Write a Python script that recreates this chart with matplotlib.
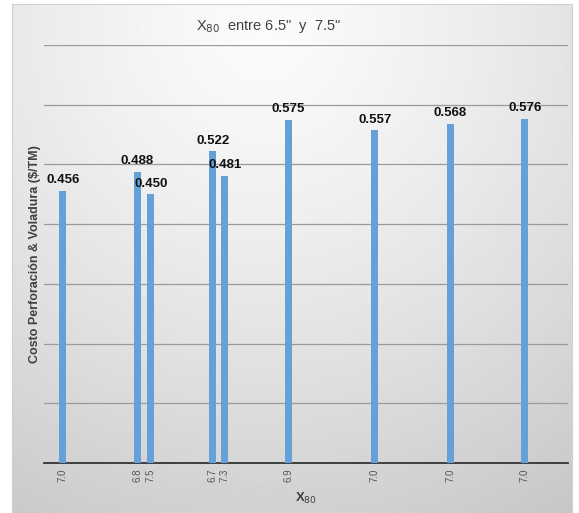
import numpy as np
import matplotlib
matplotlib.use("Agg")
import matplotlib.pyplot as plt

plt.rcParams['font.family'] = ['Liberation Sans', 'DejaVu Sans']

# slot positions along the category axis (blank categories in between)
slots = [1.4, 6.9, 7.9, 12.5, 13.4, 18.1, 24.5, 30.1, 35.6]
x80_labels = ['7.0', '6.8', '7.5', '6.7', '7.3', '6.9', '7.0', '7.0', '7.0']
costo = [0.456, 0.488, 0.450, 0.522, 0.481, 0.575, 0.557, 0.568, 0.576]

W, H = 579, 513
fig = plt.figure(figsize=(W / 100, H / 100), dpi=100)
fig.patch.set_facecolor('white')

# gray radial background of the chart area
bg = fig.add_axes([12 / W, 0, 560 / W, 1 - 4 / H])
yy, xx = np.mgrid[0:1:300j, 0:1:300j]
r = np.sqrt(((xx - 0.45) / 1.0) ** 2 + ((yy - 0.05) / 1.1) ** 2)
shade = 0.985 - 0.2 * np.clip(r, 0, 1.2) ** 1.3
bg.imshow(shade, cmap='gray', vmin=0, vmax=1, aspect='auto',
          extent=[0, 1, 1, 0], interpolation='bilinear')
bg.set_xlim(0, 1)
bg.set_ylim(1, 0)
bg.set_xticks([])
bg.set_yticks([])
for s in bg.spines.values():
    s.set_color('#d0d0d0')
    s.set_linewidth(0.8)

ax = fig.add_axes([44 / W, 1 - 463 / H, 524 / W, 418 / H])
ax.set_facecolor('none')
ax.bar(slots, costo, width=0.52, color='#65a0d8', zorder=3)
for x, v in zip(slots, costo):
    ax.text(x, v + 0.008, f'{v:.3f}', ha='center', va='bottom',
            fontsize=9.5, fontweight='bold', color='#111111', zorder=4)

ax.set_xlim(0, 38.8)
ax.set_ylim(0, 0.7)
ax.set_yticks(np.arange(0.1, 0.71, 0.1))
ax.yaxis.grid(True, color='#9a9a9a', linewidth=0.9, zorder=1)
ax.tick_params(axis='y', left=False, labelleft=False)
ax.set_xticks(slots)
ax.set_xticklabels(x80_labels, rotation=90, fontsize=7, color='#555555')
ax.tick_params(axis='x', length=0, pad=4)
for side in ['top', 'right', 'left']:
    ax.spines[side].set_visible(False)
ax.spines['bottom'].set_color('#333333')
ax.spines['bottom'].set_linewidth(1.3)

ax.set_xlabel('X$_{80}$', fontsize=9.5, fontweight='bold', color='#404040', labelpad=6)
ax.set_ylabel('Costo Perforación & Voladura ($/TM)', fontsize=9, fontweight='bold',
              color='#404040', labelpad=2)
fig.text(268 / W, 1 - 27 / H, 'X$_{80}$  entre 6.5"  y  7.5"', ha='center', va='center',
         fontsize=10.5, color='#404040')

fig.savefig('out.png', dpi=100)
